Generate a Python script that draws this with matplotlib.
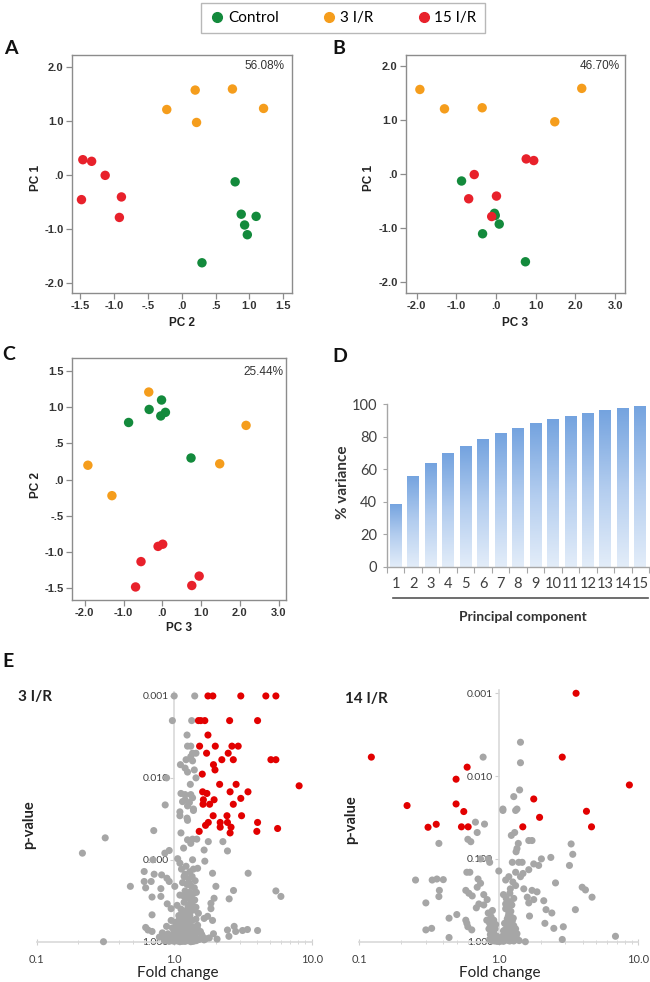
import numpy as np
import matplotlib
matplotlib.use('Agg')
import matplotlib.pyplot as plt
from matplotlib.lines import Line2D
from matplotlib.colors import LinearSegmentedColormap
from matplotlib.ticker import FixedLocator, NullLocator, LogLocator, NullFormatter

plt.rcParams['font.family'] = ['Lato', 'DejaVu Sans']

# ---- PCA scores (panels A-C) ----
ctrl_pc1 = [-0.13, -0.73, -0.93, -1.11, -0.77, -1.63]
ctrl_pc2 = [0.79, 0.88, 0.93, 0.97, 1.10, 0.30]
ctrl_pc3 = [-0.87, -0.04, 0.08, -0.34, -0.02, 0.74]
ir3_pc1 = [1.21, 1.57, 0.97, 1.59, 1.23]
ir3_pc2 = [-0.22, 0.20, 0.22, 0.75, 1.21]
ir3_pc3 = [-1.30, -1.92, 1.48, 2.16, -0.35]
ir15_pc1 = [0.28, 0.25, -0.01, -0.46, -0.41, -0.79]
ir15_pc2 = [-1.46, -1.33, -1.13, -1.48, -0.89, -0.92]
ir15_pc3 = [0.76, 0.95, -0.55, -0.69, 0.01, -0.11]

group_names = ['Control', '3 I/R', '15 I/R']
group_colors = ['#138a3c', '#f59d1c', '#e8212b']

# ---- cumulative variance (panel D) ----
components = list(range(1, 16))
pct_variance = [38.7, 56.0, 63.8, 69.7, 74.2, 78.5, 82.0, 85.3, 88.1, 90.6, 92.6, 94.5, 96.3, 97.8, 99.0]

# ---- volcano plots (panel E), (fold change, p-value) ----
red_3ir = [
    (1.76, 0.001), (1.91, 0.001), (3.05, 0.001), (4.64, 0.001), (5.49, 0.001),
    (1.50, 0.002), (1.56, 0.002), (1.67, 0.002), (2.53, 0.002), (4.04, 0.002),
    (1.76, 0.003),
    (1.53, 0.0041), (1.99, 0.0041), (2.63, 0.0041), (2.92, 0.0041),
    (1.72, 0.005), (2.47, 0.005),
    (2.22, 0.006), (2.69, 0.006), (5.05, 0.006), (5.49, 0.006),
    (1.93, 0.0069), (1.98, 0.008), (1.60, 0.009),
    (2.14, 0.012), (2.82, 0.012), (8.1, 0.0125),
    (1.61, 0.0148), (1.73, 0.0155), (2.55, 0.0148), (3.44, 0.0148),
    (3.05, 0.0178), (1.95, 0.0185), (1.63, 0.0185),
    (1.62, 0.021), (1.81, 0.021), (2.69, 0.021),
    (1.92, 0.029), (2.42, 0.029), (3.09, 0.029),
    (1.77, 0.035), (2.16, 0.035), (2.44, 0.035), (4.04, 0.035),
    (1.69, 0.038), (2.16, 0.040), (2.59, 0.040), (5.65, 0.0415),
    (1.52, 0.045), (3.99, 0.045), (2.55, 0.047)]

grey_3ir = [
    (1.00, 0.001), (1.41, 0.001), (0.97, 0.002), (1.34, 0.002), (1.24, 0.003),
    (1.25, 0.0041), (1.32, 0.0041), (1.36, 0.005), (1.44, 0.005), (1.32, 0.0055),
    (1.22, 0.006), (1.36, 0.0062), (1.11, 0.0069), (1.20, 0.0076), (1.40, 0.008),
    (1.25, 0.0085), (0.88, 0.010), (1.44, 0.010), (1.31, 0.012), (1.12, 0.0155),
    (1.20, 0.016), (1.32, 0.016), (1.36, 0.0175), (1.20, 0.0185), (1.15, 0.0195),
    (1.29, 0.020), (0.86, 0.0214), (1.25, 0.022), (1.38, 0.024), (1.10, 0.026),
    (1.10, 0.029), (1.24, 0.031), (1.38, 0.025), (1.25, 0.033), (0.71, 0.044),
    (0.315, 0.054), (0.215, 0.083),
    (1.12, 0.047), (1.25, 0.057), (1.36, 0.056), (1.46, 0.056), (1.32, 0.063),
    (1.77, 0.060), (2.26, 0.060), (2.44, 0.078), (1.65, 0.076), (1.17, 0.072),
    (0.855, 0.083), (0.92, 0.077), (1.06, 0.097), (1.10, 0.11), (1.36, 0.10),
    (1.67, 0.104), (1.48, 0.127), (0.70, 0.10),
    (0.605, 0.139), (0.715, 0.15), (0.81, 0.153), (0.605, 0.184), (0.68, 0.184),
    (0.885, 0.168), (0.92, 0.184), (1.01, 0.211), (0.48, 0.211), (0.62, 0.22),
    (0.80, 0.225), (0.69, 0.285), (0.89, 0.345), (0.95, 0.395), (0.69, 0.47),
    (0.80, 0.28),
    (1.90, 0.146), (2.01, 0.211), (2.70, 0.237), (3.45, 0.146), (2.51, 0.30),
    (1.95, 0.295), (1.85, 0.395), (1.85, 0.34), (5.49, 0.24), (5.97, 0.28),
    (0.306, 1.0), (0.62, 0.67), (0.645, 0.72), (0.69, 0.75),
    (2.73, 0.65), (2.80, 0.75), (2.44, 0.72), (3.14, 0.73), (3.41, 0.71),
    (4.04, 0.73), (1.93, 0.80), (2.50, 0.86), (1.75, 0.49), (1.65, 0.52), (1.90, 0.55),
    (1.13, 0.13), (1.22, 0.12), (1.30, 0.14), (1.38, 0.13), (1.18, 0.16),
    (1.27, 0.17), (1.35, 0.16), (1.42, 0.18), (1.15, 0.19), (1.24, 0.20),
    (1.33, 0.21), (1.40, 0.22), (1.20, 0.24), (1.29, 0.25), (1.37, 0.26),
    (1.45, 0.25), (1.10, 0.27), (1.25, 0.29), (1.33, 0.30), (1.41, 0.31),
    (1.18, 0.33), (1.28, 0.35), (1.36, 0.36), (1.05, 0.36), (1.12, 0.40),
    (1.22, 0.42), (1.31, 0.43), (1.40, 0.41), (1.50, 0.45), (1.08, 0.48),
    (1.17, 0.50), (1.26, 0.52), (1.35, 0.55), (1.44, 0.53), (0.95, 0.55),
    (1.02, 0.58), (1.12, 0.60), (1.21, 0.62), (1.30, 0.64), (1.39, 0.66),
    (1.48, 0.63), (0.88, 0.65), (0.97, 0.68), (1.06, 0.70), (1.15, 0.72),
    (1.24, 0.74), (1.33, 0.76), (1.42, 0.78), (1.55, 0.75), (0.82, 0.78),
    (0.90, 0.80), (0.99, 0.82), (1.08, 0.84), (1.17, 0.86), (1.26, 0.88),
    (1.35, 0.87), (1.45, 0.90), (1.60, 0.85), (0.78, 0.88), (0.86, 0.91),
    (0.94, 0.93), (1.03, 0.95), (1.12, 0.96), (1.21, 0.97), (1.30, 0.95),
    (1.40, 0.98), (1.52, 0.94), (1.70, 0.92), (0.92, 0.99), (1.00, 0.99),
    (1.10, 1.0), (1.20, 0.99), (1.32, 1.0),
    (0.85, 0.97), (0.89, 0.94), (0.93, 0.90), (0.97, 0.88), (1.01, 0.91),
    (1.05, 0.89), (1.09, 0.92), (1.13, 0.90), (1.17, 0.93), (1.23, 0.91),
    (1.28, 0.93), (1.33, 0.91), (1.38, 0.94), (0.96, 0.97), (1.06, 0.98),
    (1.15, 0.99), (1.25, 0.97), (1.36, 0.99), (1.45, 0.97), (0.84, 0.84),
    (0.92, 0.85), (1.00, 0.76), (1.04, 0.80), (1.10, 0.78), (1.20, 0.80),
    (1.29, 0.82), (1.38, 0.84), (1.02, 0.66), (1.09, 0.64), (1.18, 0.67),
    (1.27, 0.69), (1.36, 0.71), (1.08, 0.55), (1.16, 0.57), (1.24, 0.58),
    (1.30, 0.48), (1.21, 0.46), (1.14, 0.44), (1.26, 0.38), (1.34, 0.33),
    (1.18, 0.28), (1.28, 0.19), (1.20, 0.15), (1.44, 0.38), (1.48, 0.70),
    (1.58, 0.81), (1.65, 0.95), (1.80, 0.90), (2.05, 0.93)]

red_14ir = [
    (3.58, 0.001), (0.122, 0.0059), (2.85, 0.0059), (0.593, 0.0078), (0.494, 0.0109),
    (8.63, 0.0128), (1.78, 0.0189), (0.22, 0.0227), (0.494, 0.0217), (0.561, 0.0268),
    (4.25, 0.0266), (1.96, 0.0315), (0.311, 0.0415), (0.356, 0.0382), (0.54, 0.041),
    (0.603, 0.041), (1.486, 0.041), (4.62, 0.041)]

grey_14ir = [
    (0.772, 0.0059), (1.43, 0.0039), (1.43, 0.0069), (1.41, 0.0147), (1.28, 0.0177),
    (1.07, 0.025), (1.35, 0.025), (0.68, 0.036), (0.79, 0.038), (1.07, 0.026),
    (1.32, 0.026), (0.70, 0.048), (0.372, 0.065), (0.60, 0.058), (0.63, 0.062),
    (1.23, 0.052), (1.30, 0.048), (1.38, 0.065), (1.35, 0.075), (1.33, 0.082),
    (1.64, 0.06), (1.73, 0.06), (3.3, 0.066), (3.39, 0.088), (2.36, 0.096),
    (3.21, 0.12), (0.84, 0.10), (0.74, 0.10), (0.86, 0.11), (1.0, 0.14),
    (1.25, 0.11), (1.39, 0.11), (1.47, 0.11), (1.78, 0.115), (2.02, 0.10),
    (1.93, 0.12), (1.64, 0.135), (0.59, 0.145), (0.62, 0.145),
    (1.32, 0.145), (1.49, 0.15), (1.43, 0.164), (1.18, 0.164), (1.12, 0.18),
    (1.26, 0.19), (1.32, 0.21), (1.21, 0.23),
    (0.253, 0.18), (0.333, 0.18), (0.36, 0.175), (0.40, 0.178),
    (0.71, 0.175), (0.74, 0.197), (0.70, 0.22),
    (2.55, 0.195), (3.96, 0.22), (4.18, 0.237), (4.66, 0.29),
    (0.375, 0.24), (0.372, 0.285), (0.58, 0.24), (0.61, 0.26), (0.645, 0.28),
    (0.78, 0.27), (0.825, 0.31), (0.72, 0.35), (0.78, 0.36), (0.69, 0.39),
    (1.51, 0.23), (1.73, 0.24), (1.88, 0.25), (1.60, 0.29), (1.78, 0.31), (1.64, 0.34),
    (0.30, 0.34), (3.54, 0.41), (2.10, 0.32), (2.18, 0.41), (2.40, 0.45),
    (0.44, 0.52), (0.50, 0.47), (0.58, 0.55), (0.59, 0.60),
    (1.66, 0.49), (2.14, 0.60), (2.48, 0.69), (2.90, 0.66),
    (0.30, 0.72), (0.33, 0.69), (0.44, 0.89), (0.60, 0.66), (0.64, 0.72),
    (2.85, 0.94), (6.86, 0.86), (1.32, 0.92), (1.55, 1.0),
    (0.84, 0.45), (0.88, 0.50), (0.92, 0.55), (0.86, 0.60), (0.90, 0.65),
    (0.94, 0.70), (0.88, 0.75), (0.92, 0.80), (0.96, 0.85), (0.90, 0.88),
    (0.95, 0.92), (0.98, 0.96), (0.93, 0.98), (1.00, 0.99),
    (1.12, 0.40), (1.18, 0.45), (1.22, 0.50), (1.15, 0.53), (1.25, 0.56),
    (1.10, 0.60), (1.19, 0.62), (1.28, 0.64), (1.14, 0.68), (1.23, 0.70),
    (1.08, 0.74), (1.17, 0.76), (1.26, 0.78), (1.12, 0.82), (1.21, 0.84),
    (1.06, 0.86), (1.16, 0.90), (1.25, 0.92), (1.04, 0.94), (1.10, 0.96),
    (1.20, 0.98), (1.02, 0.99), (1.30, 0.88), (1.35, 0.80), (1.32, 0.70),
    (1.13, 0.30), (1.20, 0.33), (1.16, 0.38), (1.24, 0.36), (1.08, 0.27),
    (0.86, 0.94), (0.89, 0.97), (0.94, 0.95), (0.97, 0.99), (1.05, 0.97),
    (1.08, 0.99), (1.13, 0.95), (1.18, 0.97), (1.23, 0.95), (1.28, 0.98),
    (0.87, 0.82), (0.91, 0.86), (0.85, 0.70), (0.89, 0.72), (1.14, 0.86),
    (1.19, 0.88), (1.24, 0.86), (1.29, 0.83), (1.11, 0.72), (1.16, 0.66),
    (1.21, 0.58), (1.27, 0.52), (1.17, 0.49), (1.22, 0.43), (1.12, 0.35),
    (1.28, 0.30), (1.20, 0.26), (0.90, 0.42), (0.82, 0.55), (0.95, 0.62),
    (1.03, 0.90), (1.35, 0.92), (1.40, 0.97)]

W, H = 650, 982
fig = plt.figure(figsize=(W / 100, H / 100), dpi=100)


def box(l, t, r, b):
    # pixel box -> figure fraction
    return [l / W, 1 - b / H, (r - l) / W, (b - t) / H]


def spss_fmt(v):
    s = '%.1f' % v
    if s.startswith('0.'):
        s = s[1:]
    elif s.startswith('-0.'):
        s = '-' + s[2:]
    return s


def pca_panel(rect, xs, ys, xlim, ylim, xticks, yticks, xlab, ylab, pct, pct_x, pct_y):
    ax = fig.add_axes(rect)
    for x, y, c in zip(xs, ys, group_colors):
        ax.scatter(x, y, s=46, color=c, edgecolors='none', zorder=3)
    ax.set_xlim(*xlim)
    ax.set_ylim(*ylim)
    ax.set_xticks(xticks)
    ax.set_yticks(yticks)
    ax.set_xticklabels([spss_fmt(v) for v in xticks])
    ax.set_yticklabels([spss_fmt(v) for v in yticks])
    for sp in ax.spines.values():
        sp.set_color('#8c8c8c')
        sp.set_linewidth(1.0)
    ax.tick_params(length=4, width=0.9, color='#8c8c8c', pad=2, labelsize=8,
                   labelcolor='#333333')
    for lab in ax.get_xticklabels() + ax.get_yticklabels():
        lab.set_family('Liberation Sans')
        lab.set_fontweight('bold')
    ax.text(0.5, xlab[1], xlab[0], transform=ax.transAxes, ha='center', va='center',
            family='Liberation Sans', fontweight='bold', fontsize=8.5, color='#222222')
    ax.text(ylab[1], ylab[2], ylab[0], transform=ax.transAxes, ha='center', va='center',
            rotation=90, family='Liberation Sans', fontweight='bold', fontsize=8.5, color='#222222')
    ax.text(pct_x, pct_y, pct, transform=ax.transAxes, ha='right', va='center',
            family='Liberation Sans', fontsize=8.5, color='#333333')
    return ax


# panel A: PC 2 vs PC 1
pca_panel(box(72, 55, 292, 293),
          [ctrl_pc2, ir3_pc2, ir15_pc2], [ctrl_pc1, ir3_pc1, ir15_pc1],
          (-1.62, 1.63), (-2.19, 2.22),
          [-1.5, -1.0, -0.5, 0.0, 0.5, 1.0, 1.5], [-2.0, -1.0, 0.0, 1.0, 2.0],
          ('PC 2', -0.126), ('PC 1', -0.164, 0.483), '56.08%', 0.968, 0.955)

# panel B: PC 3 vs PC 1
pca_panel(box(406, 55, 625, 293),
          [ctrl_pc3, ir3_pc3, ir15_pc3], [ctrl_pc1, ir3_pc1, ir15_pc1],
          (-2.27, 3.25), (-2.21, 2.21),
          [-2.0, -1.0, 0.0, 1.0, 2.0, 3.0], [-2.0, -1.0, 0.0, 1.0, 2.0],
          ('PC 3', -0.127), ('PC 1', -0.169, 0.483), '46.70%', 0.977, 0.955)

# panel C: PC 3 vs PC 2
pca_panel(box(72, 358, 286, 600),
          [ctrl_pc3, ir3_pc3, ir15_pc3], [ctrl_pc2, ir3_pc2, ir15_pc2],
          (-2.33, 3.19), (-1.66, 1.68),
          [-2.0, -1.0, 0.0, 1.0, 2.0, 3.0], [-1.5, -1.0, -0.5, 0.0, 0.5, 1.0, 1.5],
          ('PC 3', -0.117), ('PC 2', -0.167, 0.476), '25.44%', 0.99, 0.944)

# panel D: cumulative % variance with gradient bars
axd = fig.add_axes(box(387, 404, 649, 567))
xpos = np.arange(len(components))
bars = axd.bar(xpos, pct_variance, width=0.67, color='none', edgecolor='none')
cmap = LinearSegmentedColormap.from_list('bluefade', ['#e3edf9', '#b3cdef', '#74a3df'])
grad = np.linspace(0, 1, 256).reshape(-1, 1)
for b in bars:
    im = axd.imshow(grad, extent=[b.get_x(), b.get_x() + b.get_width(), 0, b.get_height()],
                    origin='lower', cmap=cmap, aspect='auto', zorder=2)
    im.set_clip_path(b)
axd.set_xlim(-0.5, len(components) - 0.5)
axd.set_ylim(0, 100)
axd.spines['top'].set_visible(False)
axd.spines['right'].set_visible(False)
for sp in ('left', 'bottom'):
    axd.spines[sp].set_color('#a6a6a6')
    axd.spines[sp].set_linewidth(1.0)
axd.set_yticks([0, 20, 40, 60, 80, 100])
axd.tick_params(axis='y', length=3, color='#a6a6a6', labelsize=10.5, labelcolor='#404040', pad=4)
axd.xaxis.set_major_locator(FixedLocator(np.arange(-0.5, len(components), 1.0)))
axd.xaxis.set_major_formatter(NullFormatter())
axd.xaxis.set_minor_locator(FixedLocator(xpos))
axd.set_xticklabels([str(c) for c in components], minor=True)
axd.tick_params(axis='x', which='major', length=4, color='#a6a6a6')
axd.tick_params(axis='x', which='minor', length=0, labelsize=10.5, labelcolor='#404040', pad=7)
axd.add_line(Line2D([0.023, 0.996], [-0.188, -0.188], transform=axd.transAxes,
                    color='#555555', lw=1.2, clip_on=False))
axd.text(0.52, -0.305, 'Principal component', transform=axd.transAxes, ha='center',
         va='center', fontsize=10, fontweight='bold', color='#333333')
axd.text(-0.168, 0.517, '% variance', transform=axd.transAxes, ha='center', va='center',
         rotation=90, fontsize=11, fontweight='bold', color='#333333')


# panel E: volcano plots
def volcano(rect, grey, red, title, title_xy, pv_xy, fc_xy):
    ax = fig.add_axes(rect)
    ax.set_xscale('log')
    ax.set_yscale('log')
    gx, gy = zip(*grey)
    rx, ry = zip(*red)
    ax.scatter(gx, gy, s=26, color='#a6a6a6', edgecolors='none', clip_on=False, zorder=3)
    ax.scatter(rx, ry, s=26, color='#e20000', edgecolors='none', clip_on=False, zorder=4)
    ax.set_xlim(0.1, 10)
    ax.set_ylim(1.0, 0.0009)
    ax.spines['top'].set_visible(False)
    ax.spines['right'].set_visible(False)
    ax.spines['left'].set_position(('data', 1.0))
    for sp in ('left', 'bottom'):
        ax.spines[sp].set_color('#d9d9d9')
        ax.spines[sp].set_linewidth(1.2)
    ax.yaxis.set_major_locator(FixedLocator([0.001, 0.01, 0.1, 1.0]))
    ax.yaxis.set_minor_locator(NullLocator())
    ax.set_yticklabels(['0.001', '0.010', '0.100', '1.000'])
    ax.xaxis.set_major_locator(FixedLocator([0.1, 1.0, 10.0]))
    ax.xaxis.set_minor_locator(LogLocator(base=10, subs=np.arange(2, 10) * 1.0))
    ax.xaxis.set_minor_formatter(NullFormatter())
    ax.set_xticklabels(['0.1', '1.0', '10.0'])
    ax.tick_params(axis='y', length=3, color='#cfcfcf', labelsize=7.5, labelcolor='#404040', pad=1)
    ax.tick_params(axis='x', which='major', direction='inout', length=5, color='#cfcfcf',
                   labelsize=8, labelcolor='#404040', pad=6)
    ax.tick_params(axis='x', which='minor', direction='inout', length=3, color='#cfcfcf')
    fig.text(title_xy[0], title_xy[1], title, ha='left', va='center', fontsize=11,
             fontweight='bold', color='#222222')
    fig.text(pv_xy[0], pv_xy[1], 'p-value', ha='center', va='center', rotation=90,
             fontsize=10.5, fontweight='bold', color='#222222')
    fig.text(fc_xy[0], fc_xy[1], 'Fold change', ha='center', va='center', fontsize=11,
             color='#222222')
    return ax


volcano(box(36.7, 692.2, 311.7, 941.7), grey_3ir, red_3ir, '3 I/R',
        (18 / W, 1 - 697 / H), (29 / W, 1 - 825 / H), (178 / W, 1 - 973 / H))
volcano(box(359.3, 689.5, 638.3, 941.7), grey_14ir, red_14ir, '14 I/R',
        (345 / W, 1 - 699 / H), (351 / W, 1 - 820 / H), (500 / W, 1 - 973 / H))

# panel letters
for letter, (px, py) in zip('ABCDE', [(4, 40), (332, 40), (2, 346), (332, 348), (2, 653)]):
    fig.text(px / W, 1 - py / H, letter, ha='left', va='top', fontsize=14,
             fontweight='bold', color='#111111')

# shared legend on top
handles = [Line2D([0], [0], marker='o', linestyle='', markersize=7,
                  markerfacecolor=c, markeredgecolor=c) for c in group_colors]
leg = fig.legend(handles, group_names, loc='center', bbox_to_anchor=(343 / W, 1 - 18 / H),
                 ncol=3, frameon=True, fancybox=False, fontsize=11, handletextpad=0.2,
                 columnspacing=2.8, borderpad=0.55, handlelength=1.0)
leg.get_frame().set_edgecolor('#a6a6a6')
leg.get_frame().set_linewidth(1.0)

fig.savefig('out.png', dpi=100)
